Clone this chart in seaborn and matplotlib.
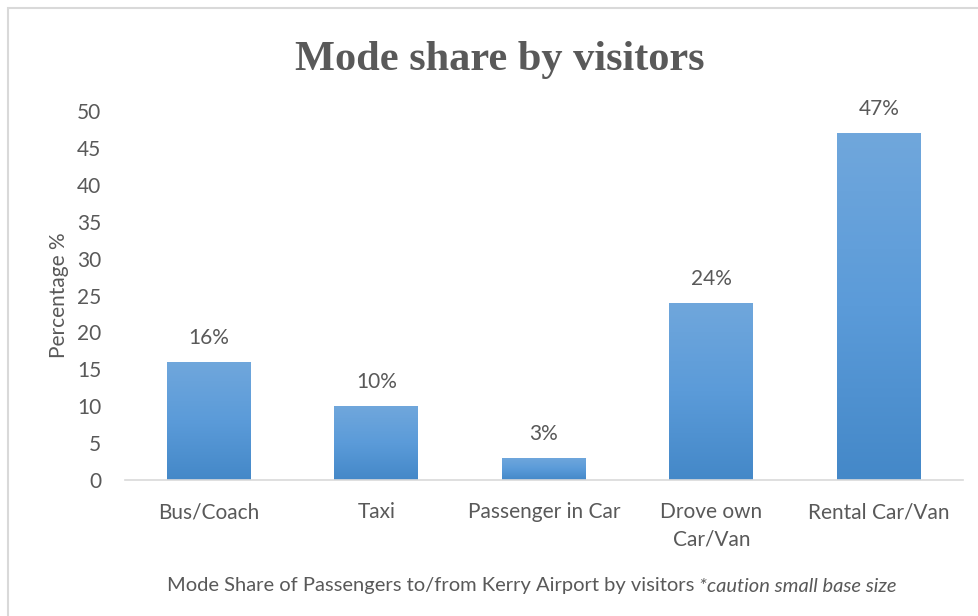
import numpy as np
import pandas as pd
import matplotlib
matplotlib.use("Agg")
import matplotlib.pyplot as plt
import seaborn as sns
from matplotlib.patches import Rectangle

categories = ["Bus/Coach", "Taxi", "Passenger in Car", "Drove own\nCar/Van", "Rental Car/Van"]
values = [16, 10, 3, 24, 47]
labels = ["16%", "10%", "3%", "24%", "47%"]
yticks = [0, 5, 10, 15, 20, 25, 30, 35, 40, 45, 50]

sns.set_theme(style="white")
plt.rcParams['font.family'] = ['Lato', 'DejaVu Sans']

W, H = 979, 616
fig = plt.figure(figsize=(W / 100, H / 100), dpi=100)
ax = fig.add_axes([125 / W, 1 - 480 / H, (962.5 - 125) / W, (480 - 111) / H])

df = pd.DataFrame({"cat": categories, "val": values})
sns.barplot(data=df, x="cat", y="val", color="#5B9BD5", width=0.5, ax=ax, saturation=1)

# gradient fill clipped to bars
grad = np.linspace(0, 1, 256).reshape(-1, 1)
cmap = matplotlib.colors.LinearSegmentedColormap.from_list("g", ["#4488C8", "#5B9BD9", "#70A7DC"])
for p in ax.patches:
    x0, y0 = p.get_x(), p.get_y()
    w, h = p.get_width(), p.get_height()
    im = ax.imshow(grad, cmap=cmap, aspect="auto", origin="lower",
                   extent=[x0, x0 + w, y0, y0 + h], zorder=p.get_zorder() + 0.1)
    im.set_clip_path(p)

ax.set_xlim(-0.5, 4.5)
ax.set_ylim(0, 50)
ax.set_yticks(yticks)
ax.set_yticklabels([str(t) for t in yticks])

txtc = "#595959"
fs = 15
ax.tick_params(axis="both", colors=txtc, labelsize=fs, length=0)
ax.tick_params(axis="x", pad=16)
ax.tick_params(axis="y", pad=17)
for s in ["top", "right", "left"]:
    ax.spines[s].set_visible(False)
ax.spines["bottom"].set_color("#D9D9D9")
ax.spines["bottom"].set_linewidth(1.2)
ax.set_xlabel("")
ax.set_ylabel("Percentage %", color=txtc, fontsize=fs, labelpad=6)
for t in ax.get_xticklabels():
    t.set_linespacing(1.45)

for i, (v, l) in enumerate(zip(values, labels)):
    ax.annotate(l, (i, v), xytext=(0, 10), textcoords="offset points",
                ha="center", va="bottom", fontsize=fs, color=txtc)

fig.text(500 / W, 1 - 60 / H, "Mode share by visitors", ha="center", va="center",
         fontsize=30.5, fontweight="bold", color=txtc, family=["Liberation Serif"])

# caption in two parts: normal + italic
cfs = 14.5
t1 = fig.text(0, 1 - 586 / H, "Mode Share of Passengers to/from Kerry Airport by visitors ",
              ha="left", va="center", fontsize=cfs, color=txtc)
t2 = fig.text(0, 1 - 586 / H, "*caution small base size",
              ha="left", va="center", fontsize=cfs, color=txtc, style="italic")
fig.canvas.draw()
r = fig.canvas.get_renderer()
w1 = t1.get_window_extent(r).width
w2 = t2.get_window_extent(r).width
start = 532 - (w1 + w2) / 2
t1.set_x(start / W)
t2.set_x((start + w1) / W)

fig.add_artist(Rectangle((8 / W, -0.1), 1.2, 1 - 8 / H + 0.1, transform=fig.transFigure,
                         fill=False, edgecolor="#D9D9D9", linewidth=1.5))

fig.savefig("out.png", dpi=100)
